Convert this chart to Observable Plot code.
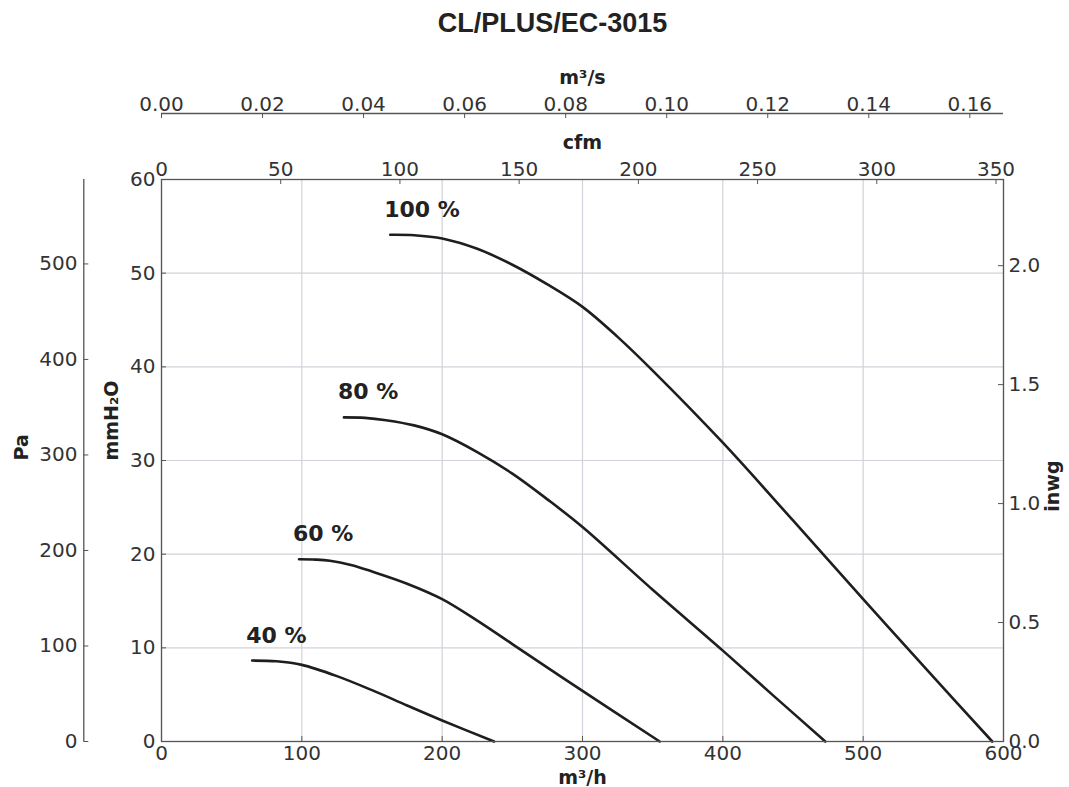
<!DOCTYPE html>
<html><head><meta charset="utf-8">
<script src="https://cdn.jsdelivr.net/npm/d3@7"></script>
<script src="https://cdn.jsdelivr.net/npm/@observablehq/plot@0.6"></script>
<style>
body{margin:0;background:#fff;}
#title{height:46px;box-sizing:border-box;padding-left:36px;text-align:center;font:bold 27px "Liberation Sans",Arial,sans-serif;color:#222;}
#title span{position:relative;top:7px;line-height:32px;}
</style></head><body>
<div id="title"><span>CL/PLUS/EC-3015</span></div>
<script>
// ---- data (m³/h vs mmH₂O) ----
const speeds = ["100 %", "80 %", "60 %", "40 %"];
const flow100  = [163, 180, 200, 225, 250, 275, 300, 325, 350, 400, 450, 500, 550, 592];
const press100 = [54.1, 54.05, 53.7, 52.6, 50.9, 48.8, 46.4, 43.2, 39.6, 31.9, 23.6, 15.2, 6.9, 0];
const flow80   = [130, 145, 160, 180, 200, 225, 250, 275, 300, 350, 400, 436, 473];
const press80  = [34.6, 34.55, 34.3, 33.75, 32.8, 30.9, 28.6, 25.85, 22.9, 16.2, 9.7, 4.9, 0];
const flow60   = [98, 110, 120, 135, 150, 175, 200, 225, 250, 300, 355];
const press60  = [19.45, 19.42, 19.3, 18.85, 18.15, 16.85, 15.2, 12.9, 10.4, 5.4, 0];
const flow40   = [64.6, 82, 100, 125, 150, 175, 200, 237];
const press40  = [8.64, 8.56, 8.18, 6.98, 5.48, 3.85, 2.25, 0];

// ---- ticks ----
const xTicks = [0, 100, 200, 300, 400, 500, 600];          // m³/h
const yTicks = [0, 10, 20, 30, 40, 50, 60];                // mmH₂O
const cfmTicks = [0, 50, 100, 150, 200, 250, 300, 350];    // cfm
const m3sTicks = [0, 0.02, 0.04, 0.06, 0.08, 0.10, 0.12, 0.14, 0.16]; // m³/s
const paTicks = [0, 100, 200, 300, 400, 500];              // Pa
const inwgTicks = [0, 0.5, 1.0, 1.5, 2.0];                 // inwg

// unit conversions
const CFM_PER_M3H = 0.588578;
const M3H_PER_M3S = 3600;
const PA_PER_MM = 9.80665;
const MM_PER_INWG = 25.4;

const series = [[flow100, press100], [flow80, press80], [flow60, press60], [flow40, press40]];
const rows = series.flatMap(([f, p], i) => f.map((q, j) => ({speed: speeds[i], q, p: p[j]})));
const labels = series.map(([f, p], i) => ({speed: speeds[i], q: f[0], p: p[0]}));

const W = 1069, H = 741, MT = 133, MB = 46, ML = 161, MR = 66;
const FH = H - MT - MB, FW = W - ML - MR;
const axisColor = "#555", gridColor = "#d2d2da", textColor = "#333";
const tickFont = {fill: textColor, fontSize: 20};
const boldFont = {fill: "#222", fontSize: 19, fontWeight: "bold"};

const chart = Plot.plot({
  width: W, height: H,
  marginTop: MT, marginBottom: MB, marginLeft: ML, marginRight: MR,
  style: {fontFamily: "DejaVu Sans", background: "white", overflow: "visible"},
  x: {domain: [xTicks[0], xTicks[xTicks.length - 1]], axis: null},
  y: {domain: [yTicks[0], yTicks[yTicks.length - 1]], axis: null},
  marks: [
    // grid
    Plot.ruleX(xTicks, {x: d => d, stroke: gridColor, strokeWidth: 1.2}),
    Plot.ruleY(yTicks, {y: d => d, stroke: gridColor, strokeWidth: 1.2}),
    // curves
    Plot.line(rows, {x: "q", y: "p", z: "speed", curve: "catmull-rom", stroke: "#1e1e1e", strokeWidth: 2.6}),
    Plot.text(labels, {x: "q", y: "p", text: "speed", dx: -6, dy: -18, textAnchor: "start", lineAnchor: "bottom",
      fontSize: 22, fontWeight: "bold", fill: "#222"}),
    Plot.frame({stroke: axisColor, strokeWidth: 1.3}),

    // bottom axis m³/h
    Plot.tickX(xTicks, {x: d => d, insetTop: FH - 5, stroke: axisColor}),
    Plot.text(xTicks, {x: d => d, frameAnchor: "bottom", dy: 4, lineAnchor: "top", text: d => String(d), ...tickFont}),
    Plot.text(["m³/h"], {frameAnchor: "bottom", dy: 29, lineAnchor: "top", text: d => d, ...boldFont}),

    // top axis cfm
    Plot.tickX(cfmTicks, {x: d => d / CFM_PER_M3H, insetBottom: FH - 5, stroke: axisColor}),
    Plot.text(cfmTicks, {x: d => d / CFM_PER_M3H, frameAnchor: "top", dy: -4, lineAnchor: "bottom", text: d => String(d), ...tickFont}),
    Plot.text(["cfm"], {frameAnchor: "top", dy: -31, lineAnchor: "bottom", text: d => d, ...boldFont}),

    // top offset axis m³/s
    Plot.ruleY([yTicks[yTicks.length - 1]], {y: d => d, dy: -66, stroke: axisColor, strokeWidth: 1.3}),
    Plot.tickX(m3sTicks, {x: d => d * M3H_PER_M3S, insetBottom: FH - 5, dy: -66, stroke: axisColor}),
    Plot.text(m3sTicks, {x: d => d * M3H_PER_M3S, frameAnchor: "top", dy: -69, lineAnchor: "bottom", text: d => d.toFixed(2), ...tickFont}),
    Plot.text(["m³/s"], {frameAnchor: "top", dy: -96, lineAnchor: "bottom", text: d => d, ...boldFont}),

    // left axis mmH₂O
    Plot.tickY(yTicks, {y: d => d, insetRight: FW - 5, stroke: axisColor}),
    Plot.text(yTicks, {y: d => d, frameAnchor: "left", dx: -6, textAnchor: "end", text: d => String(d), ...tickFont}),
    Plot.text(["mmH₂O"], {frameAnchor: "left", dx: -50, rotate: -90, text: d => d, ...boldFont}),

    // far-left offset axis Pa
    Plot.ruleX([xTicks[0]], {x: d => d, dx: -77.7, stroke: axisColor, strokeWidth: 1.3}),
    Plot.tickY(paTicks, {y: d => d / PA_PER_MM, insetRight: FW - 5, dx: -77.7, stroke: axisColor}),
    Plot.text(paTicks, {y: d => d / PA_PER_MM, frameAnchor: "left", dx: -84, textAnchor: "end", text: d => String(d), ...tickFont}),
    Plot.text(["Pa"], {frameAnchor: "left", dx: -140, rotate: -90, text: d => d, ...boldFont}),

    // right axis inwg
    Plot.tickY(inwgTicks, {y: d => d * MM_PER_INWG, insetLeft: FW - 5, stroke: axisColor}),
    Plot.text(inwgTicks, {y: d => d * MM_PER_INWG, frameAnchor: "right", dx: 5, textAnchor: "start", text: d => d.toFixed(1), ...tickFont}),
    Plot.text(["inwg"], {frameAnchor: "right", dx: 49, rotate: -90, text: d => d, ...boldFont})
  ]
});
document.body.appendChild(chart);
</script>
</body></html>
